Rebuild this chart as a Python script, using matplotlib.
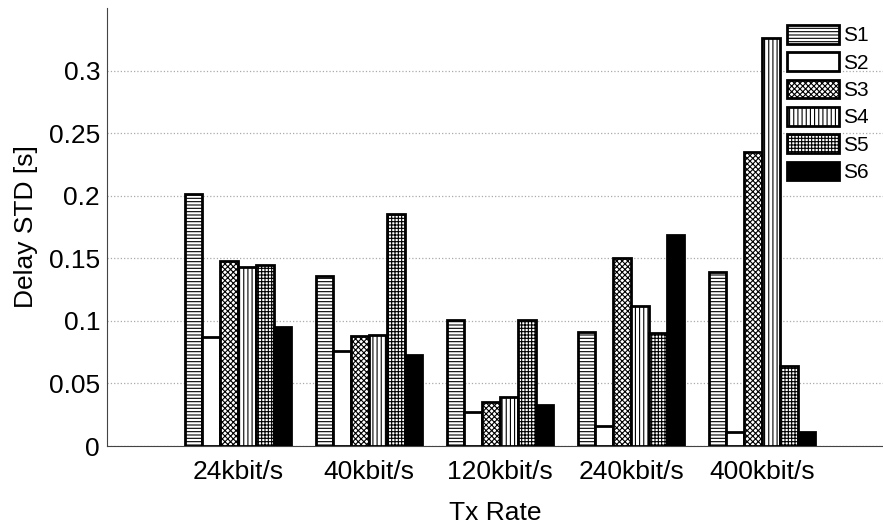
import matplotlib
matplotlib.use("Agg")
import matplotlib.pyplot as plt
import numpy as np

plt.rcParams['font.family'] = ['Liberation Sans', 'DejaVu Sans']
plt.rcParams['hatch.linewidth'] = 0.8

categories = ['24kbit/s', '40kbit/s', '120kbit/s', '240kbit/s', '400kbit/s']
series_names = ['S1', 'S2', 'S3', 'S4', 'S5', 'S6']
S1 = [0.201, 0.136, 0.101, 0.091, 0.139]
S2 = [0.087, 0.076, 0.027, 0.016, 0.011]
S3 = [0.148, 0.088, 0.035, 0.150, 0.235]
S4 = [0.143, 0.089, 0.039, 0.112, 0.326]
S5 = [0.145, 0.185, 0.101, 0.090, 0.064]
S6 = [0.095, 0.073, 0.033, 0.169, 0.011]
series = [S1, S2, S3, S4, S5, S6]

hatches = ['-----', '', 'xxxxxx', '||||', '+++++', '']
faces = ['white', 'white', 'white', 'white', 'white', 'black']

fig = plt.figure(figsize=(8.83, 5.27), dpi=100)
ax = fig.add_axes([107/883, 1-446/527, 776/883, 438/527])

x = np.arange(1, len(categories)+1)
w = 0.136
for i, (vals, name) in enumerate(zip(series, series_names)):
    off = (i - 2.5) * w
    ax.bar(x + off, vals, width=w, facecolor=faces[i], edgecolor='black',
           hatch=hatches[i], linewidth=2, label=name, zorder=3)

ax.set_xlim(0, 776/131)
ax.set_ylim(0, 0.35)
ax.set_xticks(x)
ax.set_xticklabels(categories, fontsize=19)
ax.set_yticks([0, 0.05, 0.1, 0.15, 0.2, 0.25, 0.3])
ax.set_yticklabels(['0', '0.05', '0.1', '0.15', '0.2', '0.25', '0.3'], fontsize=19)
ax.yaxis.grid(True, linestyle=':', color='#aaaaaa', linewidth=0.9, zorder=0)
ax.set_axisbelow(True)
ax.spines['top'].set_visible(False)
ax.spines['right'].set_visible(False)
ax.spines['left'].set_color('#444444')
ax.spines['bottom'].set_color('#444444')
ax.tick_params(axis='y', length=0, pad=5)
ax.tick_params(axis='x', length=0, pad=10)
ax.set_xlabel('Tx Rate', fontsize=19, labelpad=12)
ax.set_ylabel('Delay STD [s]', fontsize=19, labelpad=8)

leg = ax.legend(loc='upper left', bbox_to_anchor=(787/883, 1-25/527),
                bbox_transform=fig.transFigure, frameon=False,
                fontsize=15, handlelength=2.5, handleheight=1.0,
                labelspacing=0.33, handletextpad=0.2, borderaxespad=0,
                borderpad=0)

fig.savefig('out.png', dpi=100)
